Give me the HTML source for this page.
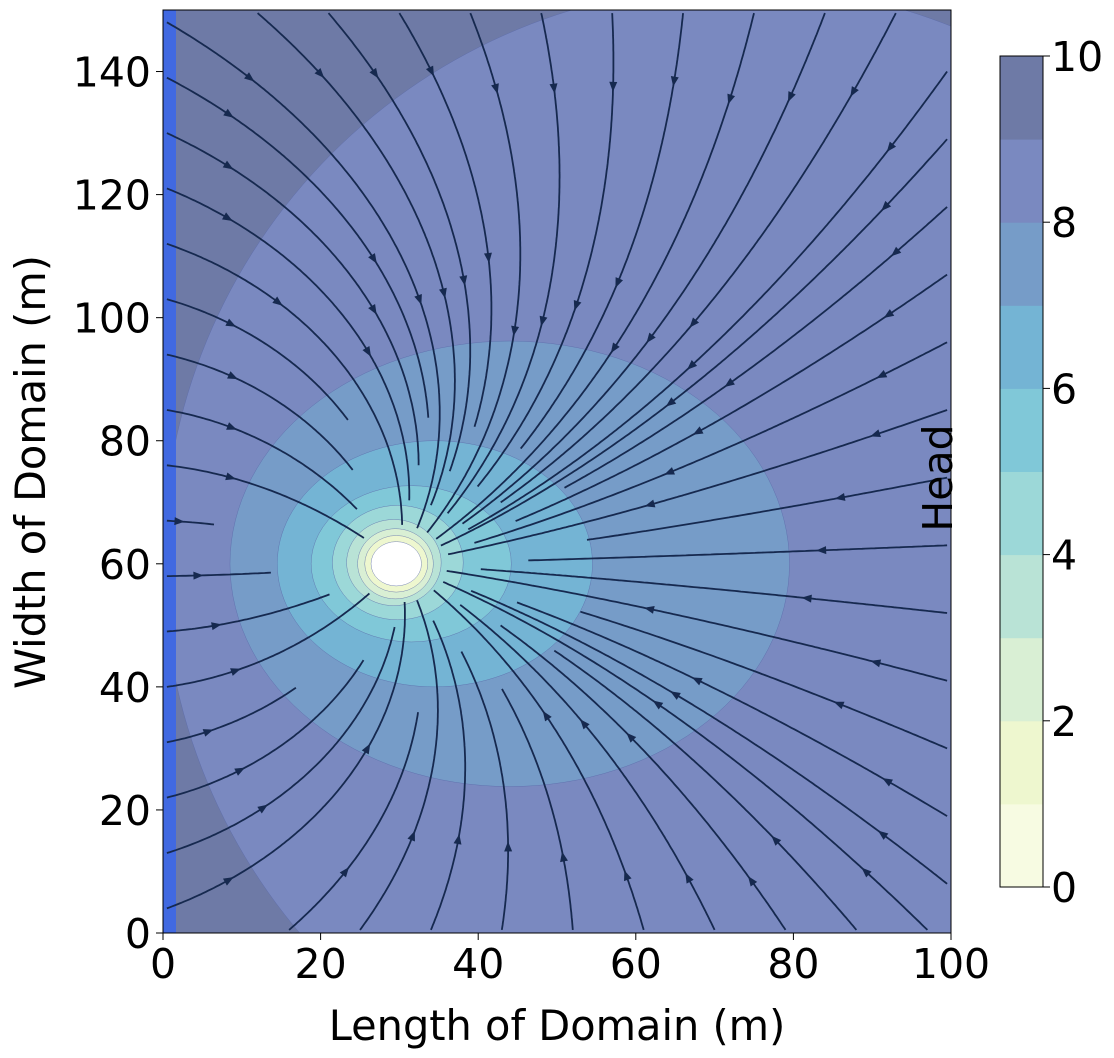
<!DOCTYPE html>
<html><head><meta charset="utf-8">
<style>
html,body{margin:0;background:#fff;overflow:hidden;width:1114px;height:1058px;}
svg{display:block;}
svg text{font-family:"DejaVu Sans","Liberation Sans",sans-serif;fill:#000;}
</style></head>
<body>
<svg id="chart" width="1114" height="1058" viewBox="0 0 1114 1058" xmlns="http://www.w3.org/2000/svg">
<defs><clipPath id="plotclip"><rect x="163" y="10" width="788" height="923"/></clipPath></defs>
<g id="plot" clip-path="url(#plotclip)"></g>
<g id="axes"></g>
<g id="cbar"></g>
</svg>
<script>
// contour levels and band colours
const levels = [0,1,2,3,4,5,6,7,8,9,10];
const bandColors = ["#f7fbe2","#eef7cf","#d9efd4","#b9e3d6","#9cd8d8","#80c8d8","#74b4d4","#769cc8","#7a89c0","#6e7aa6"];
// contour shapes (data units): lower level of enclosed band, centre x, centre y, radius x, radius y
const contourLevel = [8,7,6,5,4,3,2,1,0];
const contourCx = [73,44,34.5,31.5,29.8,29.3,29.5,29.6,29.6];
const contourCy = [60.5,60,60,60,60.2,60.2,60,60,60];
const contourRx = [73,35.5,20,12.7,8.3,6,4.8,4,3.2];
const contourRy = [93.5,36.2,20,12.7,9.3,7,5.7,4.6,3.6];
// well / boundary
const wellX = 30, wellY = 60;
const xTicks = [0,20,40,60,80,100];
const yTicks = [0,20,40,60,80,100,120,140];
const cbTicks = [0,2,4,6,8,10];

const NS="http://www.w3.org/2000/svg";
const X0=163,X1=951,Y0=933,Y1=10;
const sx=v=>X0+(v/100)*(X1-X0);
const sy=v=>Y0-(v/150)*(Y0-Y1);
function mk(t,a,p){const e=document.createElementNS(NS,t);for(const k in a)e.setAttribute(k,a[k]);(p||document.getElementById('chart')).appendChild(e);return e;}
const plot=document.getElementById('plot'), axes=document.getElementById('axes'), cbar=document.getElementById('cbar');

let bg=mk('rect',{x:X0,y:Y1,width:X1-X0,height:Y0-Y1,fill:bandColors[9]},plot);


contourLevel.forEach((lv,i)=>{
  const e=mk('ellipse',{cx:sx(contourCx[i]),cy:sy(contourCy[i]),rx:contourRx[i]/100*(X1-X0),ry:contourRy[i]/150*(Y0-Y1),fill:lv===0?"#ffffff":bandColors[lv],stroke:"#5a6aa8","stroke-width":0.4},plot);
  
  
});
let strip=mk('rect',{x:X0,y:Y1,width:13,height:Y0-Y1,fill:"#4169e1"},plot);



// streamlines: radial flow into the well, push from left boundary (image source)
function vel(x,y){
  const dx1=wellX-x,dy1=wellY-y,r1=Math.hypot(dx1,dy1)||1;
  const dx2=x+wellX,dy2=y-wellY,r2=Math.hypot(dx2,dy2)||1;
  return [dx1/r1/r1+0.6*dx2/r2/r2, dy1/r1/r1+0.6*dy2/r2/r2];
}
const seeds=[];
for(let y=4;y<150;y+=9)seeds.push([0.5,y]);
for(let x=12;x<100;x+=9)seeds.push([x,149.5]);
for(let x=16;x<100;x+=9)seeds.push([x,0.5]);
for(let y=8;y<145;y+=11)seeds.push([99.5,y]);
const sl=mk('g',{},plot);


seeds.forEach((s,si)=>{
  let [x,y]=s;const pts=[[x,y]];
  const stopR=[6,10,16,24][si%4];
  for(let k=0;k<3000;k++){
    const v=vel(x,y);const m=Math.hypot(v[0],v[1])||1;
    x+=v[0]/m*0.4;y+=v[1]/m*0.4;
    if(x<0||x>100||y<0||y>150)break;
    if(Math.hypot(x-wellX,y-wellY)<stopR)break;
    pts.push([x,y]);
  }
  if(pts.length<5)return;
  const d=pts.map((p,i)=>(i?'L':'M')+sx(p[0]).toFixed(1)+' '+sy(p[1]).toFixed(1)).join(' ');
  const p=mk('path',{d:d,fill:"none",stroke:"#16294f","stroke-width":1.8},sl);
  
  
  const n=pts.length, idxs=n>150?[Math.floor(n*0.15),Math.floor(n*0.6)]:[Math.floor(n*0.3)];
  idxs.forEach(ix=>{
    const a=pts[ix],b=pts[Math.min(ix+2,n-1)];
    const ang=Math.atan2(sy(b[1])-sy(a[1]),sx(b[0])-sx(a[0]))*180/Math.PI;
    const ar=mk('path',{d:"M5 0 L-5 -4 L-5 4 Z",fill:"#16294f",transform:`translate(${sx(a[0])},${sy(a[1])}) rotate(${ang})`},sl);
    
    
  });
});

let fr=mk('rect',{x:X0,y:Y1,width:X1-X0,height:Y0-Y1,fill:"none",stroke:"#000","stroke-width":1},axes);


xTicks.forEach(t=>{
  const l=mk('line',{x1:sx(t),x2:sx(t),y1:Y0,y2:Y0+7,stroke:"#000"},axes);
  
  
  const tx=mk('text',{x:sx(t),y:Y0+45,"font-size":41,"text-anchor":"middle"},axes);tx.textContent=t;
  
  
});
yTicks.forEach(t=>{
  const l=mk('line',{x1:X0-7,x2:X0,y1:sy(t),y2:sy(t),stroke:"#000"},axes);
  
  
  const tx=mk('text',{x:X0-12,y:sy(t)+15,"font-size":41,"text-anchor":"end"},axes);tx.textContent=t;
  
  
});
let xl=mk('text',{x:557,y:1040,"font-size":41.5,"text-anchor":"middle"},axes);xl.textContent="Length of Domain (m)";


let yl=mk('text',{x:0,y:0,"font-size":41.5,"text-anchor":"middle",transform:"translate(45,472) rotate(-90)"},axes);yl.textContent="Width of Domain (m)";



const CX=1000,CW=43,CT=56,CB=887;
const cy=v=>CB-(v/10)*(CB-CT);
bandColors.forEach((c,i)=>{
  const r=mk('rect',{x:CX,y:cy(levels[i+1]),width:CW,height:cy(levels[i])-cy(levels[i+1])+0.5,fill:c},cbar);
  
  
});
let cf=mk('rect',{x:CX,y:CT,width:CW,height:CB-CT,fill:"none",stroke:"#000"},cbar);


cbTicks.forEach(t=>{
  const l=mk('line',{x1:CX+CW,x2:CX+CW+7,y1:cy(t),y2:cy(t),stroke:"#000"},cbar);
  
  
  const tx=mk('text',{x:CX+CW+8,y:cy(t)+15,"font-size":41},cbar);tx.textContent=t;
  
  
});
let hl=mk('text',{x:0,y:0,"font-size":41,"text-anchor":"middle",transform:"translate(952,478) rotate(-90)"},cbar);hl.textContent="Head";


</script>
</body></html>
